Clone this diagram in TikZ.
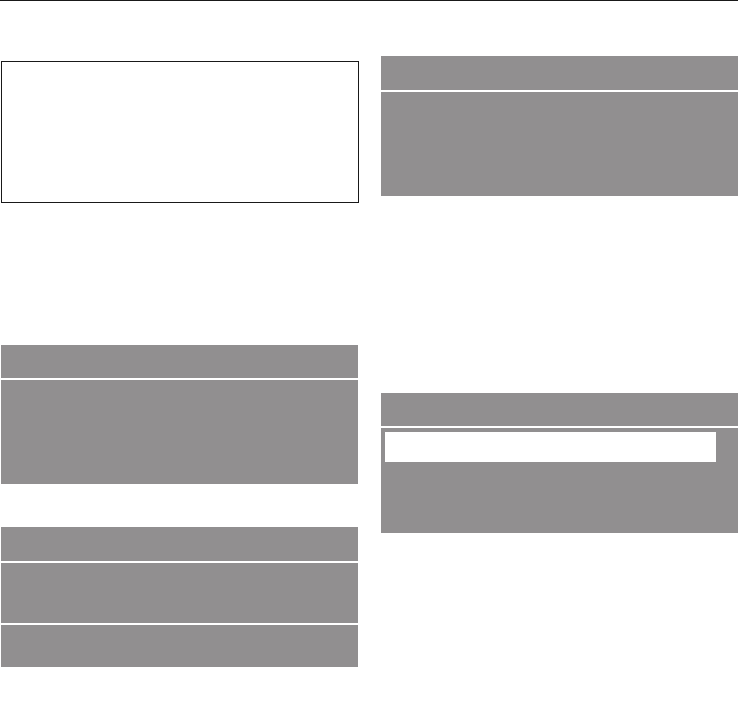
\documentclass[tikz,border=0pt]{standalone}
\definecolor{panelgray}{HTML}{918F90}
\begin{document}
\begin{tikzpicture}[x=1pt,y=-1pt,
  panel/.style={fill=panelgray,draw=none},
  outline/.style={draw=black!90,line width=1.2pt,fill=none},
  rule/.style={draw=black!90,line width=1.4pt}]
\useasboundingbox (0,0) rectangle (739,718);
% top rule
\draw[rule] (0,0.7) -- (738,0.7);
% top-left outlined box
\draw[outline] (1.6,61.6) rectangle (358.4,202.4);
% top-right panel
\fill[panel] (381,56) rectangle (738,90);
\fill[panel] (381,92) rectangle (738,196);
% middle-left panel
\fill[panel] (1,345) rectangle (358,378);
\fill[panel] (1,380) rectangle (358,484);
% bottom-left panel
\fill[panel] (1,527) rectangle (358,561);
\fill[panel] (1,563) rectangle (358,623);
\fill[panel] (1,624.5) rectangle (358,667);
% bottom-right panel
\fill[panel] (381,393) rectangle (738,426);
\fill[panel] (381,428) rectangle (738,533);
\fill[white] (385,432) rectangle (716,462);
\end{tikzpicture}
\end{document}
